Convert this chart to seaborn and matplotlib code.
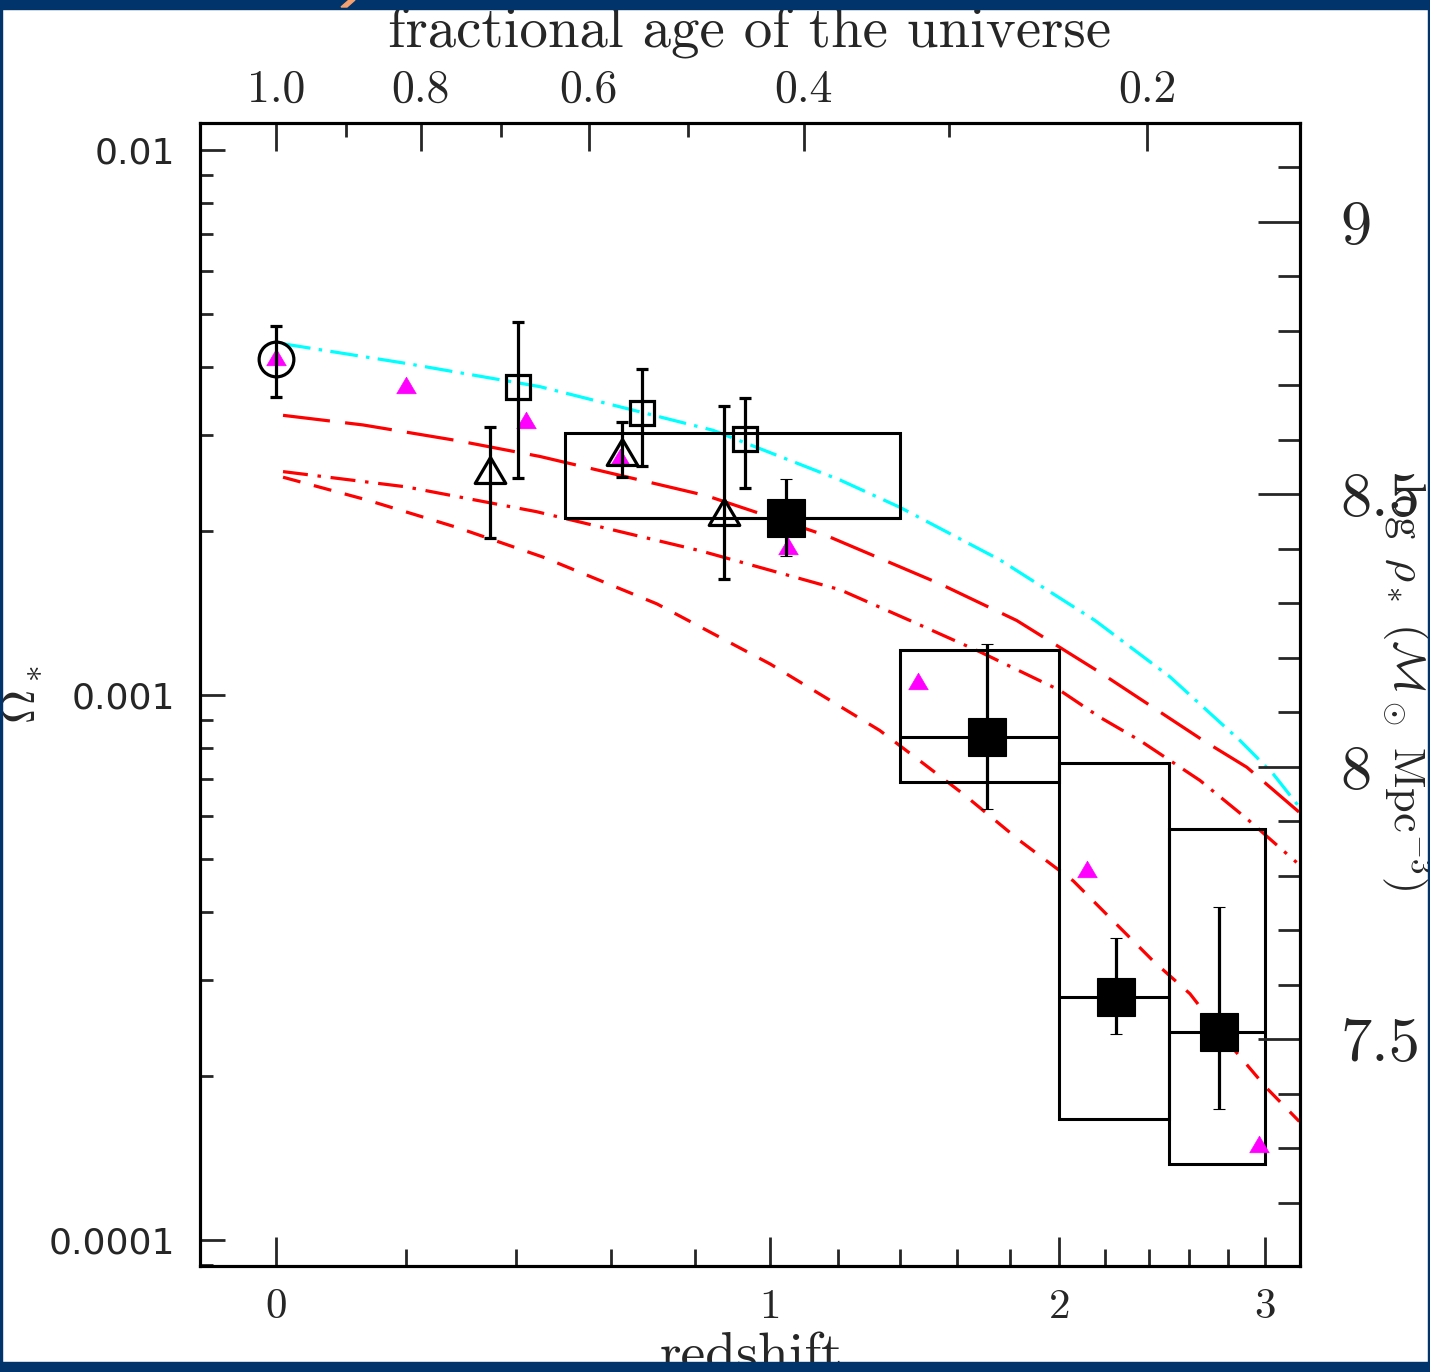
import numpy as np
import matplotlib
matplotlib.use("Agg")
import matplotlib.pyplot as plt
import seaborn as sns
from matplotlib.patches import Rectangle, Polygon
from matplotlib.path import Path
from matplotlib.ticker import NullFormatter

sns.set_style("ticks")
plt.rcParams["mathtext.fontset"] = "cm"
plt.rcParams["lines.scale_dashes"] = False
plt.rcParams["axes.formatter.use_mathtext"] = True

# local value (open circle)
circ_z = [0.0]
circ_om = [0.00414]
circ_lo = [0.00352]
circ_hi = [0.00476]

# model points (magenta triangles)
tri_z = [0.0, 0.20, 0.42, 0.62, 1.05, 1.46, 2.12, 2.97]
tri_om = [0.00417, 0.00370, 0.00319, 0.00273, 0.00188, 0.00106, 0.00048, 0.000150]

# open squares
sq_z = [0.405, 0.67, 0.93]
sq_om = [0.00368, 0.00329, 0.00295]
sq_lo = [0.00250, 0.00263, 0.00240]
sq_hi = [0.00484, 0.00396, 0.00351]

# open triangles
ot_z = [0.35, 0.625, 0.875]
ot_om = [0.00259, 0.00279, 0.00217]
ot_lo = [0.00194, 0.00251, 0.00163]
ot_hi = [0.00310, 0.00317, 0.00339]

# filled squares
fs_z = [1.045, 1.71, 2.25, 2.75]
fs_om = [0.00211, 0.000837, 0.000279, 0.000241]
fs_lo = [0.00180, 0.000618, 0.000239, 0.000174]
fs_hi = [0.00249, 0.00124, 0.000358, 0.000408]

# boxes (redshift bins)
box_zlo = [0.5, 1.4, 2.0, 2.5]
box_zhi = [1.4, 2.0, 2.5, 3.0]
box_lo = [0.00211, 0.000692, 0.000167, 0.000138]
box_hi = [0.00303, 0.00121, 0.000749, 0.000568]
box_mid = [0.00211, 0.000837, 0.000279, 0.000241]

# model curves
cyan_z = [0.01, 0.20, 0.448, 0.846, 1.206, 1.399, 1.760, 2.154, 2.503, 2.865, 3.048, 3.198]
cyan_om = [0.00441, 0.00406, 0.00368, 0.00306, 0.00248, 0.00221, 0.00177, 0.00137, 0.00108, 0.000825, 0.000717, 0.000624]

long_z = [0.01, 0.130, 0.289, 0.448, 0.830, 1.165, 1.537, 1.826, 2.176, 2.671, 2.902, 3.198]
long_om = [0.00326, 0.00313, 0.00293, 0.00274, 0.00232, 0.00196, 0.00160, 0.00137, 0.00110, 0.000825, 0.000737, 0.000610]

dd_z = [0.01, 0.20, 0.441, 0.8125, 1.206, 1.433, 1.684, 2.002, 2.176, 2.359, 2.654, 2.902, 3.184]
dd_om = [0.00257, 0.00241, 0.00217, 0.00184, 0.00156, 0.00137, 0.00120, 0.00102, 0.00091, 0.000825, 0.000697, 0.000593, 0.000493]

sd_z = [0.01, 0.136, 0.289, 0.455, 0.706, 1.0, 1.332, 1.466, 1.622, 1.839, 2.059, 2.205, 2.422, 2.603, 2.793, 3.012, 3.200]
sd_om = [0.00251, 0.00228, 0.00203, 0.00179, 0.00147, 0.00114, 0.000861, 0.000758, 0.000658, 0.000540, 0.000456, 0.000396, 0.000325, 0.000283, 0.000232, 0.000190, 0.000165]

# axis ticks
z_major = [0, 1, 2, 3]
z_minor = [0.2, 0.4, 0.6, 0.8, 1.2, 1.4, 1.6, 1.8, 2.2, 2.4, 2.6, 2.8]
om_major = [1e-4, 1e-3, 1e-2]
om_labels = ["0.0001", "0.001", "0.01"]
age_major = [1.0, 0.8, 0.6, 0.4, 0.2]
age_labels = ["1.0", "0.8", "0.6", "0.4", "0.2"]
age_minor = [0.9, 0.7, 0.5, 0.3]
rho_major = [7.5, 8.0, 8.5, 9.0]
rho_labels = ["7.5", "8", "8.5", "9"]
rho_minor = [7.2, 7.3, 7.4, 7.6, 7.7, 7.8, 7.9, 8.1, 8.2, 8.3, 8.4, 8.6, 8.7, 8.8, 8.9, 9.1]

LOG_RHO_CRIT = 11.132

# flat LCDM, Om=0.3, for the age axis
OM, OL = 0.3, 0.7
S = np.sqrt(OL / OM)
A = np.arcsinh(S)


def z_of_age(f):
    f = np.asarray(f, dtype=float)
    return (np.sinh(f * A) / S) ** (-2.0 / 3.0) - 1.0


def fwd(z):
    return np.log10(np.clip(1.0 + np.asarray(z, dtype=float), 1e-6, None))


def inv(u):
    return 10.0 ** np.asarray(u, dtype=float) - 1.0


fig = plt.figure(figsize=(14.3, 13.72), dpi=100)
ax = fig.add_axes([200 / 1430, 1 - 1266 / 1372, 1100 / 1430, 1143 / 1372])
ax.set_xscale("function", functions=(fwd, inv))
ax.set_yscale("log")
ax.set_xlim(-0.101, 3.204)
ax.set_ylim(8.96e-5, 0.01121)

# curves
sns.lineplot(x=cyan_z, y=cyan_om, ax=ax, color="#00ffff", lw=2.3,
             linestyle=(0, (20, 6, 2.5, 6)), estimator=None, zorder=2)
sns.lineplot(x=long_z, y=long_om, ax=ax, color="#ff0000", lw=2.3,
             linestyle=(0, (34, 11)), estimator=None, zorder=2)
sns.lineplot(x=dd_z, y=dd_om, ax=ax, color="#ff0000", lw=2.3,
             linestyle=(0, (18, 7, 2.5, 7)), estimator=None, zorder=2)
sns.lineplot(x=sd_z, y=sd_om, ax=ax, color="#ff0000", lw=2.3,
             linestyle=(0, (13, 10)), estimator=None, zorder=2)

# boxes
for zl, zh, lo, hi in zip(box_zlo, box_zhi, box_lo, box_hi):
    ax.add_patch(Rectangle((zl, lo), zh - zl, hi - lo, fill=False,
                           ec="k", lw=2.2, zorder=3))
ax.hlines(box_mid, box_zlo, box_zhi, colors="k", lw=2.2, zorder=3)

tri_marker = Path([(-1, -0.85), (1, -0.85), (0, 0.85), (0, 0)], closed=True)

ax.plot(tri_z, tri_om, ls="none", marker=tri_marker, ms=14,
        color="#ff00ff", mec="#ff00ff", mew=0.5, zorder=4)


def yerr(om, lo, hi):
    return [np.subtract(om, lo), np.subtract(hi, om)]


eb = dict(ecolor="k", elinewidth=2.3, capsize=4.3, capthick=2.3, ls="none", zorder=5)
ax.errorbar(circ_z, circ_om, yerr=yerr(circ_om, circ_lo, circ_hi), marker="o",
            ms=25, mfc="none", mec="k", mew=2.3, **eb)
ax.errorbar(sq_z, sq_om, yerr=yerr(sq_om, sq_lo, sq_hi), marker="s",
            ms=17.5, mfc="none", mec="k", mew=2.3, **eb)
ax.errorbar(ot_z, ot_om, yerr=yerr(ot_om, ot_lo, ot_hi), marker=tri_marker,
            ms=22, mfc="none", mec="k", mew=2.3, **eb)
ax.errorbar(fs_z, fs_om, yerr=yerr(fs_om, fs_lo, fs_hi), marker="s",
            ms=27, mfc="k", mec="k", mew=0.8, **eb)

# bottom / left ticks
ax.set_xticks(z_major, labels=[str(v) for v in z_major], fontfamily="cmr10", fontsize=31)
ax.set_xticks(z_minor, minor=True)
ax.xaxis.set_minor_formatter(NullFormatter())
ax.set_yticks(om_major, labels=om_labels, fontfamily="DejaVu Sans", fontsize=26)
ax.yaxis.set_minor_formatter(NullFormatter())
ax.tick_params(axis="x", which="major", direction="in", length=21, width=2, pad=16, top=False)
ax.tick_params(axis="x", which="minor", direction="in", length=12, width=2, top=False)
ax.tick_params(axis="y", which="major", direction="in", length=18, width=2, pad=18, right=False)
ax.tick_params(axis="y", which="minor", direction="in", length=9, width=2, right=False)

# right axis: log rho_*
ax_r = ax.twinx()
ax_r.set_yscale("log")
ylo, yhi = ax.get_ylim()
ax_r.set_ylim(ylo * 10 ** LOG_RHO_CRIT, yhi * 10 ** LOG_RHO_CRIT)
ax_r.set_yticks(10 ** np.array(rho_major), labels=rho_labels, fontfamily="cmr10", fontsize=45)
ax_r.set_yticks(10 ** np.array(rho_minor), minor=True)
ax_r.yaxis.set_minor_formatter(NullFormatter())
ax_r.tick_params(axis="y", which="major", direction="in", length=30, width=2, pad=29)
ax_r.tick_params(axis="y", which="minor", direction="in", length=16, width=2)

# top axis: fractional age of the universe
ax_t = ax.twiny()
ax_t.set_xscale("function", functions=(fwd, inv))
ax_t.set_xlim(ax.get_xlim())
ax_t.set_xticks(z_of_age(age_major), labels=age_labels, fontfamily="cmr10", fontsize=33)
ax_t.set_xticks(z_of_age(age_minor), minor=True)
ax_t.xaxis.set_minor_formatter(NullFormatter())
ax_t.tick_params(axis="x", which="major", direction="in", length=20, width=2, pad=9)
ax_t.tick_params(axis="x", which="minor", direction="in", length=10, width=2)

for a in (ax, ax_r, ax_t):
    for sp in a.spines.values():
        sp.set_linewidth(2.2)
        sp.set_color("k")

# axis titles
fig.text(750 / 1430, 1 - 46 / 1372, "fractional age of the universe",
         fontfamily="cmr10", fontsize=41, ha="center", va="baseline")
fig.text(751 / 1430, 1 - 1372 / 1372, "redshift",
         fontfamily="cmr10", fontsize=40, ha="center", va="baseline")
fig.text(22 / 1430, 1 - 695 / 1372, r"$\Omega_*$", fontsize=34,
         rotation=90, ha="center", va="center")
fig.text(1407 / 1430, 1 - 686 / 1372,
         r"$\log\ \rho_*\ (\mathcal{M}_\odot\ \mathrm{Mpc}^{-3})$",
         fontsize=32, rotation=-90, ha="center", va="center")

# slide frame
frame = "#00346a"
for x0, y0, w, h in [(0, 1 - 9 / 1372, 1, 9 / 1372), (0, 0, 1, 10 / 1372),
                     (0, 0, 2 / 1430, 1), (1 - 2 / 1430, 0, 2 / 1430, 1)]:
    fig.add_artist(Rectangle((x0, y0), w, h, transform=fig.transFigure,
                             color=frame, zorder=20))
fig.add_artist(Polygon([(341 / 1430, 1 - 7 / 1372), (347 / 1430, 1 - 7 / 1372),
                        (355 / 1430, 1.0), (349 / 1430, 1.0)],
                       closed=True, transform=fig.transFigure,
                       color="#f4a070", zorder=21))

fig.savefig("out.png", dpi=100)
